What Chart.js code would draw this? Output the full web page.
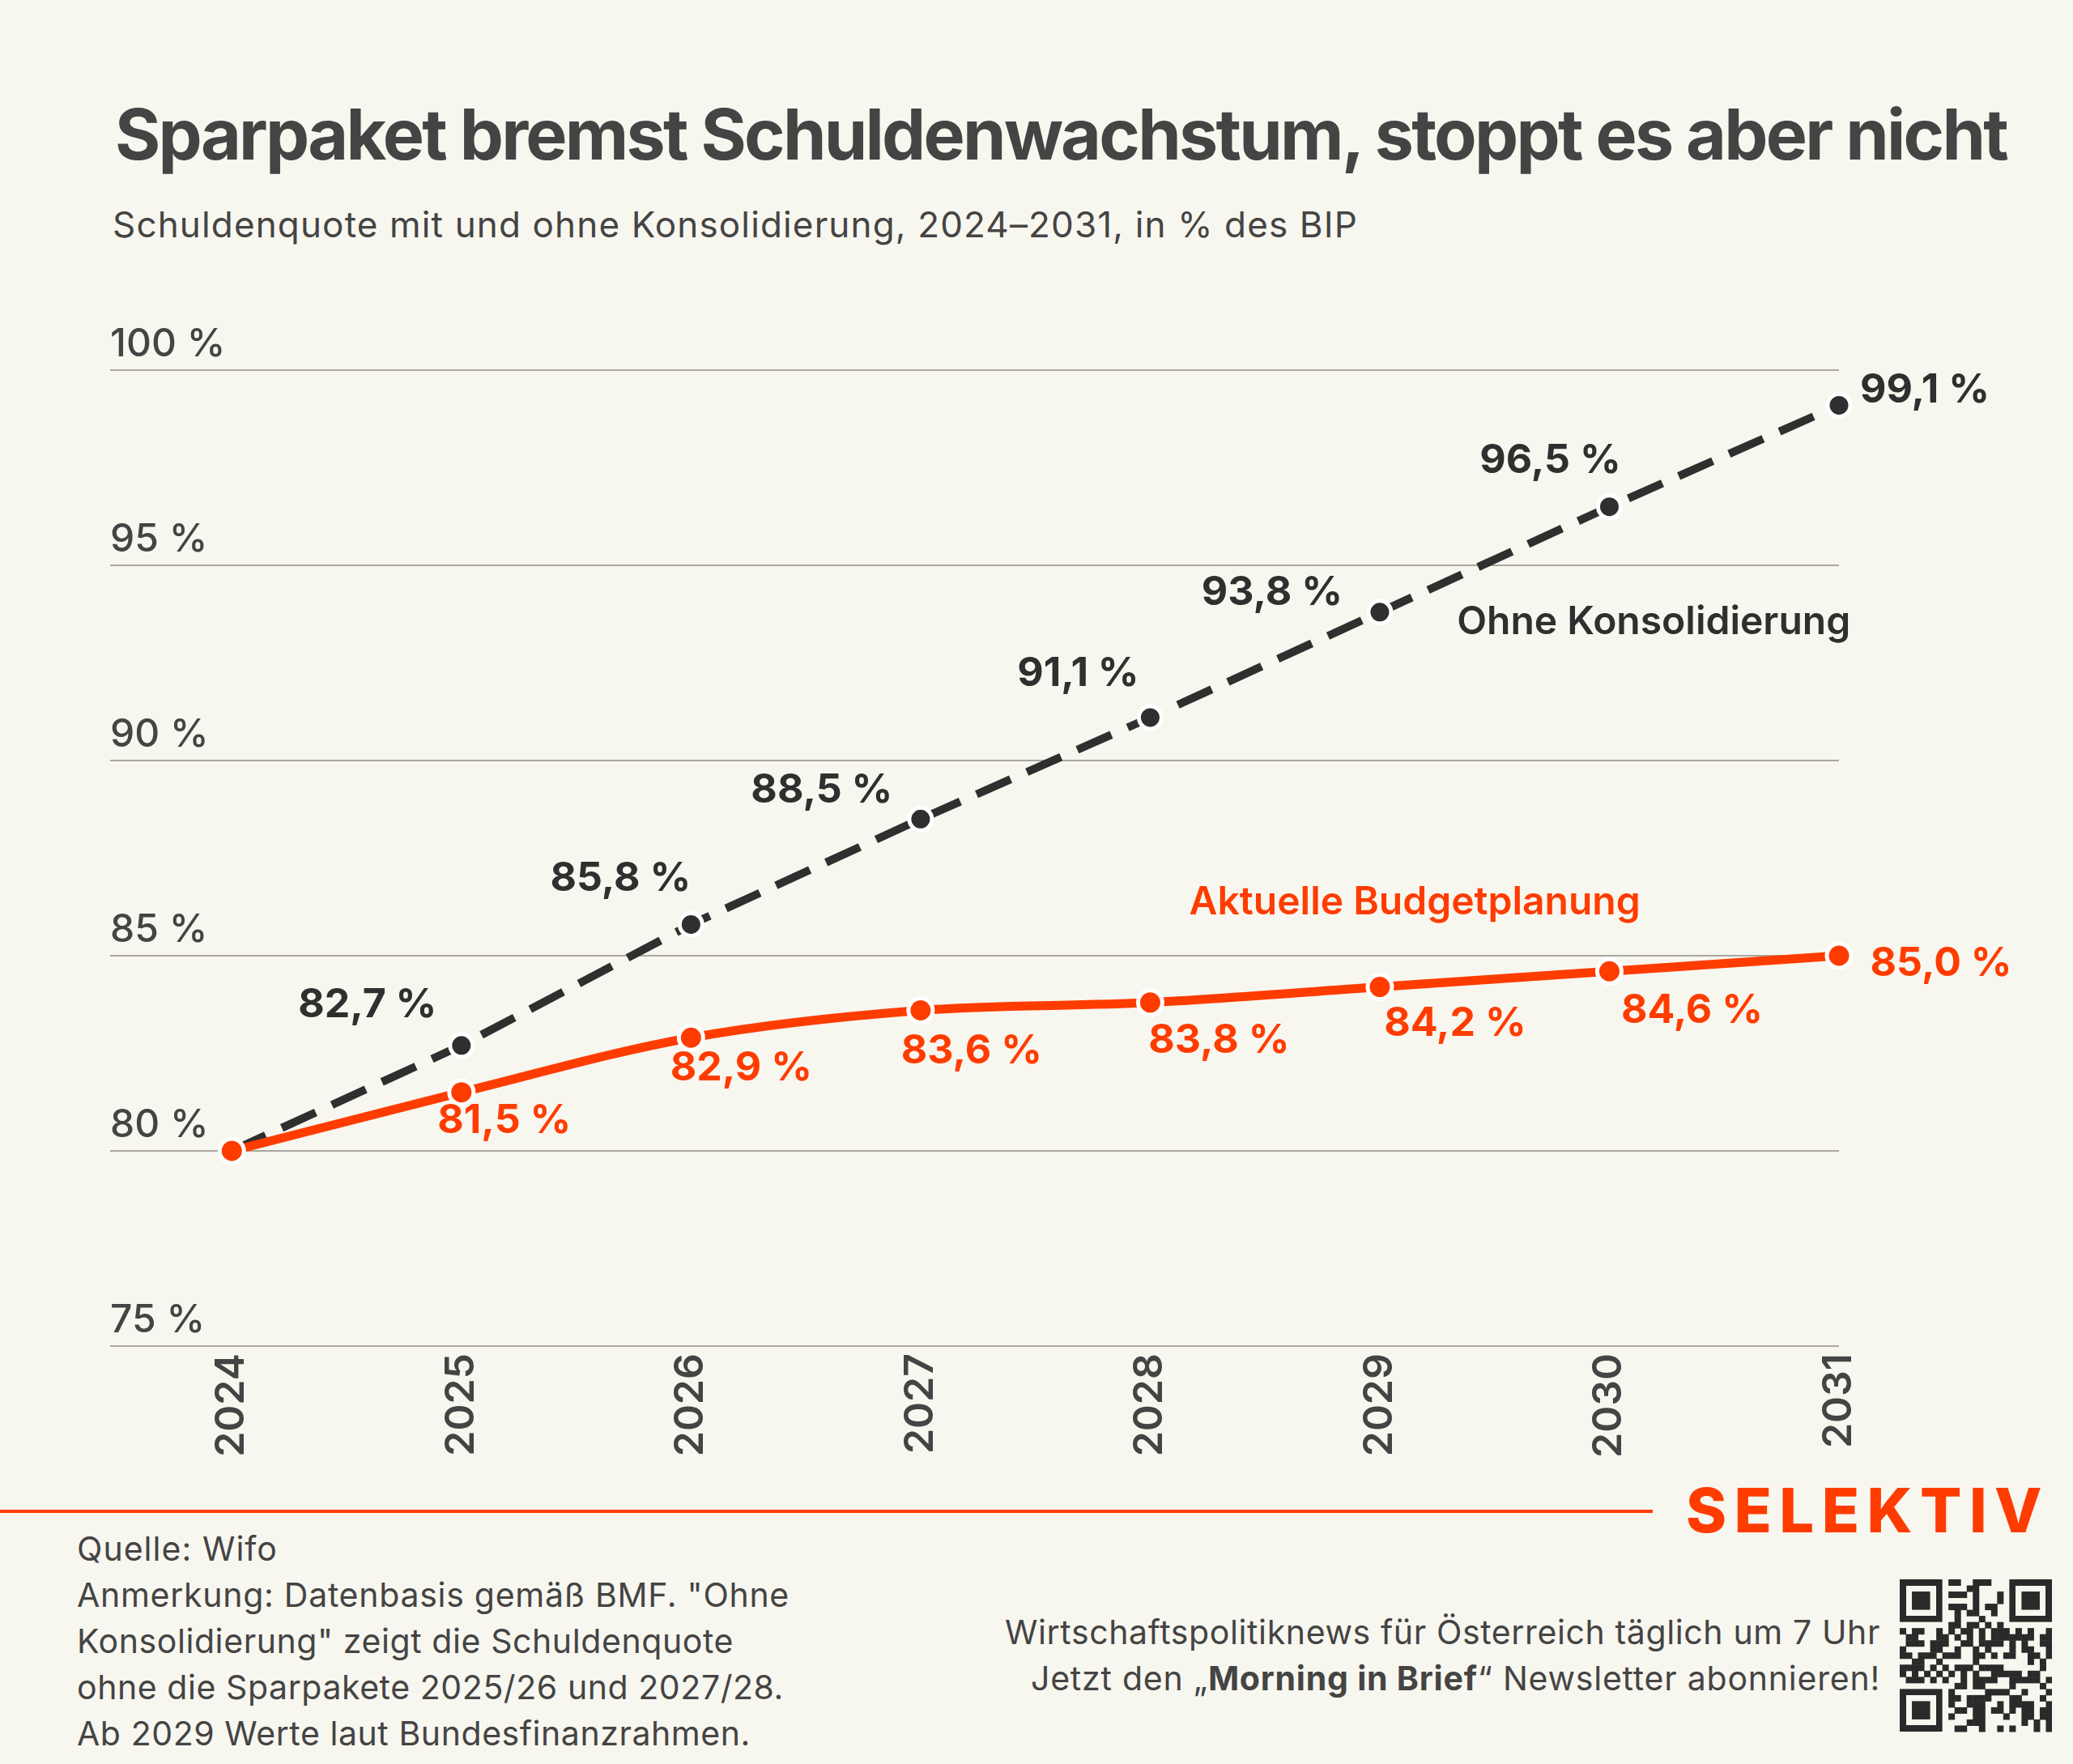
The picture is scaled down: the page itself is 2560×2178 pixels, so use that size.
<!DOCTYPE html>
<html lang="de">
<head>
<meta charset="utf-8">
<title>Sparpaket bremst Schuldenwachstum</title>
<script src="https://cdn.jsdelivr.net/npm/chart.js@4.4.1/dist/chart.umd.min.js"></script>
<style>
  html, body { margin: 0; padding: 0; background: #f8f7ef; }
  body { width: 2560px; height: 2178px; position: relative; overflow: hidden;
         font-family: Inter, "Noto Sans", sans-serif; color: #444; }
  .t { position: absolute; white-space: nowrap; }
  #title { left: 142px; top: 123px; font-size: 86px; font-weight: 700; line-height: 1; color: #444; }
  #subtitle { left: 139px; top: 255px; font-size: 44px; font-weight: 400; line-height: 1; color: #444; }
  #chartBox { position: absolute; left: 0; top: 0; width: 2560px; height: 1860px; }
  #rule { position: absolute; left: 0; top: 1864px; width: 2041px; height: 4px; background: #ff3c00; }
  #brand { left: 2082px; top: 1826px; font-size: 76px; font-weight: 800; line-height: 1; color: #ff3c00; }
  #notes { left: 95px; top: 1884px; font-size: 41px; line-height: 57px; color: #444; }
  #promo { right: 238px; top: 1987px; font-size: 41px; line-height: 57px; color: #444; text-align: right; }
  .line { display: block; white-space: nowrap; }
  .line span.fit { display: inline-block; }
  #qr { position: absolute; left: 2346px; top: 1950px; }
</style>
</head>
<body>
<div class="t fit" id="title" data-w="2336">Sparpaket bremst Schuldenwachstum, stoppt es aber nicht</div>
<div class="t fit" id="subtitle" data-w="1538">Schuldenquote mit und ohne Konsolidierung, 2024–2031, in % des BIP</div>

<div id="chartBox"><canvas id="chart" width="2560" height="1860"></canvas></div>

<div id="rule"></div>
<div class="t fit" id="brand" data-w="449">SELEKTIV</div>

<div class="t" id="notes">
  <span class="line"><span class="fit" data-w="248">Quelle: Wifo</span></span>
  <span class="line"><span class="fit" data-w="880">Anmerkung: Datenbasis gemäß BMF. "Ohne</span></span>
  <span class="line"><span class="fit" data-w="811">Konsolidierung" zeigt die Schuldenquote</span></span>
  <span class="line"><span class="fit" data-w="873">ohne die Sparpakete 2025/26 und 2027/28.</span></span>
  <span class="line"><span class="fit" data-w="832">Ab 2029 Werte laut Bundesfinanzrahmen.</span></span>
</div>

<div class="t" id="promo">
  <span class="line"><span class="fit" data-w="1081">Wirtschaftspolitiknews für Österreich täglich um 7 Uhr</span></span>
  <span class="line"><span class="fit" data-w="1049">Jetzt den „<b>Morning in Brief</b>“ Newsletter abonnieren!</span></span>
</div>

<canvas id="qr" width="188" height="190"></canvas>

<script>
// Chart data
const years = [2024, 2025, 2026, 2027, 2028, 2029, 2030, 2031];
const ohneKonsolidierung = [80.0, 82.7, 85.8, 88.5, 91.1, 93.8, 96.5, 99.1];
const budgetplanung = [80.0, 81.5, 82.9, 83.6, 83.8, 84.2, 84.6, 85.0];
const yTicks = [75, 80, 85, 90, 95, 100];

// Label placement (pixels from each point, centre of the text)
const ohneLabelOffsets = [null, [-116, -50], [-87, -56], [-122, -35], [-89, -54], [-133, -24], [-73, -57], [106, -18]];
const budgetLabelOffsets = [null, [53, 35], [62, 38], [63, 50], [85, 47], [93, 45], [102, 49], [126, 10]];

const ORANGE = "#ff3c00";
const DARK = "#2f2f2f";
const FONT = "Inter, 'Noto Sans', sans-serif";

// stretch text to the width it has in the original
function fitText() {
    document.querySelectorAll(".fit").forEach((el) => {
        const target = parseFloat(el.dataset.w);
        if (el.classList.contains("t")) el.style.display = "inline-block";
        const w = el.getBoundingClientRect().width;
        const n = el.textContent.length;
        el.style.letterSpacing = ((target - w) / n) + "px";
    });
}

// formats 82.7 as "82,7 %"
function pct(v) {
    return v.toFixed(1).replace(".", ",") + " %";
}

// writes the value next to each point
const valueLabels = {
    id: "valueLabels",
    afterDatasetsDraw(chart) {
        const ctx = chart.ctx;
        const sets = [
            { idx: 0, values: budgetplanung, offsets: budgetLabelOffsets, color: ORANGE },
            { idx: 1, values: ohneKonsolidierung, offsets: ohneLabelOffsets, color: DARK }
        ];
        ctx.save();
        ctx.font = "700 50px " + FONT;
        ctx.textAlign = "center";
        ctx.textBaseline = "middle";
        sets.forEach((s) => {
            const meta = chart.getDatasetMeta(s.idx);
            ctx.fillStyle = s.color;
            meta.data.forEach((pt, i) => {
                const off = s.offsets[i];
                if (!off) return;
                ctx.fillText(pct(s.values[i]), pt.x + off[0], pt.y + off[1]);
            });
        });

        // series names
        const xs = chart.scales.x, ys = chart.scales.y;
        ctx.font = "600 48px " + FONT;
        ctx.fillStyle = DARK;
        ctx.textAlign = "right";
        ctx.fillText("Ohne Konsolidierung", xs.getPixelForValue(2031.05), ys.getPixelForValue(93.54));
        ctx.fillStyle = ORANGE;
        ctx.textAlign = "left";
        ctx.fillText("Aktuelle Budgetplanung", xs.getPixelForValue(2028.17), ys.getPixelForValue(86.36));
        ctx.restore();
    }
};

function createDebtChart() {
    const chart = document.getElementById("chart");

    new Chart(chart, {
        type: "line",
        data: {
            datasets: [{
                label: "Aktuelle Budgetplanung",
                data: years.map((y, i) => ({ x: y, y: budgetplanung[i] })),
                borderColor: ORANGE,
                borderWidth: 11,
                cubicInterpolationMode: "monotone",
                pointRadius: 15,
                pointBackgroundColor: ORANGE,
                pointBorderColor: "#ffffff",
                pointBorderWidth: 5,
                clip: false
            }, {
                label: "Ohne Konsolidierung",
                data: years.map((y, i) => ({ x: y, y: ohneKonsolidierung[i] })),
                borderColor: DARK,
                borderWidth: 10,
                borderDash: [46, 22],
                tension: 0,
                pointRadius: 14,
                pointBackgroundColor: DARK,
                pointBorderColor: "#ffffff",
                pointBorderWidth: 5,
                clip: false
            }]
        },
        options: {
            responsive: false,
            animation: false,
            events: [],
            layout: { padding: { left: 136, right: 289, top: 457, bottom: 58 } },
            plugins: { legend: { display: false }, tooltip: { enabled: false } },
            scales: {
                x: {
                    type: "linear",
                    min: 2023.47,
                    max: 2031,
                    afterBuildTicks: (s) => { s.ticks = years.map((v) => ({ value: v })); },
                    afterFit: (s) => { s.height = 140; },
                    grid: { display: false },
                    border: { display: false },
                    ticks: {
                        callback: (v) => String(v),
                        autoSkip: false,
                        minRotation: 90,
                        maxRotation: 90,
                        padding: 1,
                        color: "#444",
                        font: { family: FONT, size: 50, weight: 600 }
                    }
                },
                y: {
                    min: 75,
                    max: 100,
                    afterBuildTicks: (s) => { s.ticks = yTicks.map((v) => ({ value: v })); },
                    afterFit: (s) => { s.width = 0; },
                    border: { display: false },
                    grid: { color: "#a9a79f", lineWidth: 2, drawTicks: false },
                    ticks: {
                        mirror: true,
                        padding: 0,
                        labelOffset: -31,
                        callback: (v) => v + " %",
                        color: "#444",
                        font: { family: FONT, size: 48, weight: 500 }
                    }
                }
            }
        },
        plugins: [valueLabels]
    });
}

// decorative QR-style block next to the newsletter line
function drawQr() {
    const c = document.getElementById("qr");
    const ctx = c.getContext("2d");
    const n = 25, m = c.width / n;
    ctx.fillStyle = "#2a2a2a";
    const finder = (cx, cy) => {
        ctx.fillRect(cx * m, cy * m, 7 * m, 7 * m);
        ctx.clearRect((cx + 1) * m, (cy + 1) * m, 5 * m, 5 * m);
        ctx.fillRect((cx + 2) * m, (cy + 2) * m, 3 * m, 3 * m);
    };
    let h = 7;
    for (let r = 0; r < n; r++) {
        for (let col = 0; col < n; col++) {
            const inFinder = (r < 8 && col < 8) || (r < 8 && col > n - 9) || (r > n - 9 && col < 8);
            if (inFinder) continue;
            h = (h * 1103515245 + 12345) & 0x7fffffff;
            if ((h >> 16) % 2 === 0) ctx.fillRect(col * m, r * m, m + 0.5, m + 0.5);
        }
    }
    finder(0, 0); finder(n - 7, 0); finder(0, n - 7);
}

document.addEventListener("DOMContentLoaded", () => {
    fitText();
    createDebtChart();
    drawQr();
});
</script>
</body>
</html>
